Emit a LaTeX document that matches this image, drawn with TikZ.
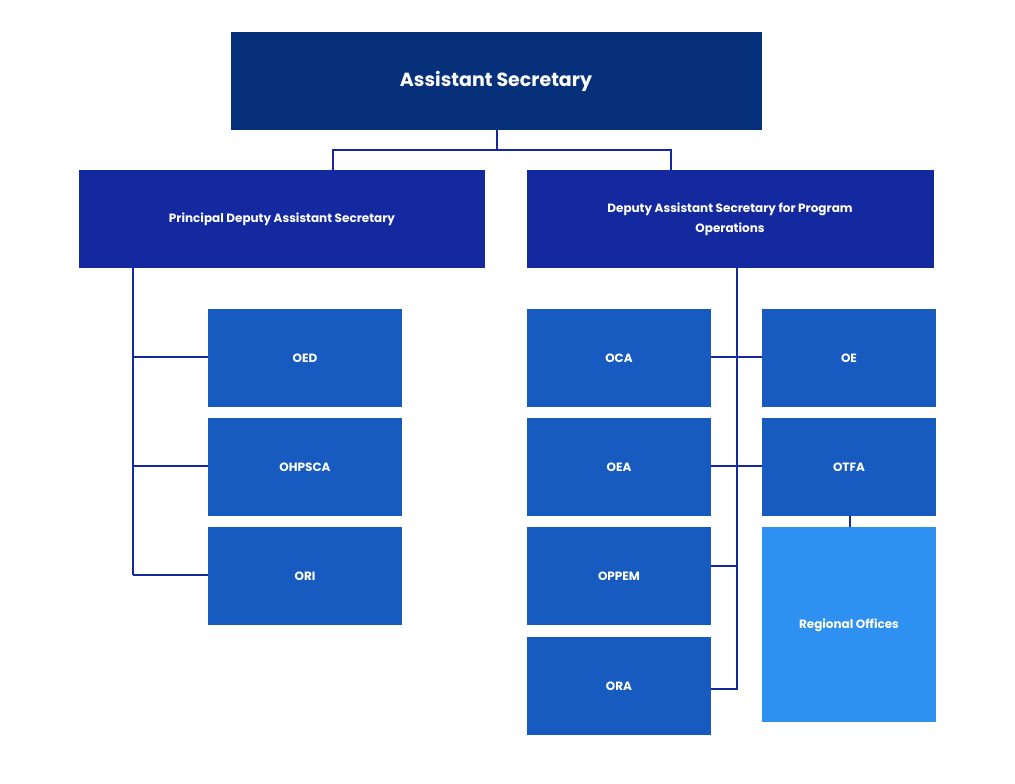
\documentclass[tikz,border=0pt]{standalone}
\usepackage{fontspec}
\setmainfont{Poppins}
\begin{document}
\begin{tikzpicture}[x=1pt,y=-1pt,
 box/.style={draw=none,minimum width=#1,inner sep=0pt,text=white,font=\bfseries,align=center},
 ln/.style={draw={rgb,255:red,20;green,40;blue,160},line width=2.4pt}]
\definecolor{navy}{RGB}{6,49,122}
\definecolor{royal}{RGB}{20,40,160}
\definecolor{mid}{RGB}{24,91,192}
\definecolor{light}{RGB}{46,144,240}
\useasboundingbox (0,0) rectangle (1015,784);
\fill[white] (0,0) rectangle (1015,784);
\newcommand{\bx}[7]{\fill[#6] (#2,#3) rectangle (#4,#5); \node[text=white,font=#7,align=center,text width={(#4-#2-20)*1pt}] (#1) at ({(#2+#4)/2},{(#3+#5)/2}) {\strut #1};}
% lines first
\draw[ln] (497,130) -- (497,150) (333,170) |- (671,150) -- (671,170);
\draw[ln] (133,268) -- (133,575);
\draw[ln] (133,357) -- (208,357) (133,466) -- (208,466) (133,575) -- (208,575);
\draw[ln] (737,268) -- (737,689) -- (711,689);
\draw[ln] (711,357) -- (762,357) (711,466) -- (762,466) (711,566) -- (737,566);
\draw[ln] (850,516) -- (850,527);
\fill[navy] (231,32) rectangle (762,130);
\node[text=white,font=\bfseries\fontsize{19}{22}\selectfont] (as) at (496,81) {Assistant Secretary};
\fill[royal] (79,170) rectangle (485,268);
\node[text=white,font=\bfseries\fontsize{12}{16}\selectfont] (pdas) at (282,219) {Principal Deputy Assistant Secretary};
\fill[royal] (527,170) rectangle (934,268);
\node[text=white,font=\bfseries\fontsize{12}{20}\selectfont,align=center] (daspo) at (730,219) {Deputy Assistant Secretary for Program\\Operations};
\foreach \n/\a/\b/\c/\d in {OED/208/309/402/407,OHPSCA/208/418/402/516,ORI/208/527/402/625,OCA/527/309/711/407,OEA/527/418/711/516,OPPEM/527/527/711/625,ORA/527/637/711/735,OE/762/309/936/407,OTFA/762/418/936/516}{
 \fill[mid] (\a,\b) rectangle (\c,\d);
 \node[text=white,font=\bfseries\fontsize{12}{14}\selectfont] (\n) at ({(\a+\c)/2},{(\b+\d)/2}) {\n};
}
\fill[light] (762,527) rectangle (936,722);
\node[text=white,font=\bfseries\fontsize{12}{14}\selectfont] (reg) at (849,625) {Regional Offices};
\end{tikzpicture}
\end{document}
